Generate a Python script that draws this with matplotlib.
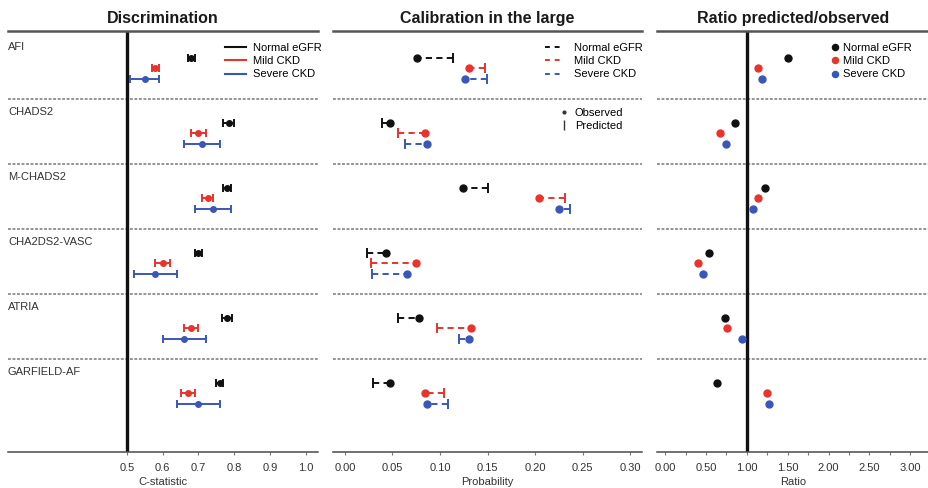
import matplotlib
matplotlib.use("Agg")
import matplotlib.pyplot as plt
from matplotlib.lines import Line2D
from matplotlib.ticker import FixedLocator, MultipleLocator, FormatStrFormatter
import matplotlib.transforms as mtransforms

plt.rcParams['font.family'] = ['Liberation Sans', 'DejaVu Sans']

# ---- data ----
scores = ["AFI", "CHADS2", "M-CHADS2", "CHA2DS2-VASC", "ATRIA", "GARFIELD-AF"]
groups = ["Normal eGFR", "Mild CKD", "Severe CKD"]
colors = ["#111111", "#e8342c", "#3a57b8"]

# C-statistic point estimates and 95% CI, per group (rows follow `scores`)
cstat_normal = [0.68, 0.785, 0.78, 0.70, 0.78, 0.76]
cstat_normal_lo = [0.67, 0.77, 0.77, 0.69, 0.765, 0.75]
cstat_normal_hi = [0.69, 0.80, 0.79, 0.71, 0.795, 0.77]
cstat_mild = [0.58, 0.70, 0.727, 0.60, 0.68, 0.67]
cstat_mild_lo = [0.57, 0.68, 0.71, 0.58, 0.66, 0.65]
cstat_mild_hi = [0.59, 0.72, 0.74, 0.62, 0.70, 0.69]
cstat_severe = [0.55, 0.71, 0.74, 0.58, 0.66, 0.70]
cstat_severe_lo = [0.51, 0.66, 0.69, 0.52, 0.60, 0.64]
cstat_severe_hi = [0.59, 0.76, 0.79, 0.64, 0.72, 0.76]

# Observed and predicted probabilities
obs_normal = [0.076, 0.047, 0.124, 0.043, 0.078, 0.047]
pred_normal = [0.114, 0.039, 0.150, 0.023, 0.0555, 0.029]
obs_mild = [0.1305, 0.0845, 0.204, 0.0744, 0.133, 0.084]
pred_mild = [0.147, 0.0555, 0.232, 0.0274, 0.0972, 0.104]
obs_severe = [0.126, 0.0867, 0.225, 0.0656, 0.131, 0.086]
pred_severe = [0.149, 0.063, 0.237, 0.028, 0.120, 0.108]

# Ratio predicted / observed
ratio_normal = [1.50, 0.85, 1.22, 0.54, 0.73, 0.64]
ratio_mild = [1.135, 0.67, 1.14, 0.40, 0.755, 1.245]
ratio_severe = [1.19, 0.75, 1.07, 0.46, 0.94, 1.27]

cstat = [(cstat_normal, cstat_normal_lo, cstat_normal_hi),
         (cstat_mild, cstat_mild_lo, cstat_mild_hi),
         (cstat_severe, cstat_severe_lo, cstat_severe_hi)]
calib = [(obs_normal, pred_normal), (obs_mild, pred_mild), (obs_severe, pred_severe)]
ratios = [ratio_normal, ratio_mild, ratio_severe]

# ---- layout ----
W, H = 929, 488
fig = plt.figure(figsize=(W / 100, H / 100), dpi=100)
fig.patch.set_facecolor("white")


def px_axes(x0, x1, y0, y1):
    ax = fig.add_axes([x0 / W, 1 - y1 / H, (x1 - x0) / W, (y1 - y0) / H])
    ax.patch.set_alpha(0)
    return ax


ax1 = px_axes(8, 318, 31, 452)
ax2 = px_axes(333, 642, 31, 452)
ax3 = px_axes(657, 929, 31, 452)

n = len(scores)
y_top, y_bot = -0.046, 6.43
offsets = [0.37, 0.525, 0.69]
label_off = 0.2
axis_grey = "#4a4a4a"
txt = 8


def style_axes(ax, title, xlabel):
    ax.set_ylim(y_bot, y_top)
    ax.set_yticks([])
    for s in ("left", "right"):
        ax.spines[s].set_visible(False)
    ax.spines["top"].set_color("#555555")
    ax.spines["top"].set_linewidth(1.8)
    ax.spines["bottom"].set_color(axis_grey)
    ax.spines["bottom"].set_linewidth(1.1)
    ax.tick_params(axis="x", which="both", direction="out", length=2.5, width=0.8,
                   color="#777777", labelsize=txt, labelcolor="#333333", pad=5.5)
    ax.set_title(title, fontsize=11.5, fontweight="bold", color="#1a1a1a", pad=6)
    ax.set_xlabel(xlabel, fontsize=txt, color="#333333", labelpad=2.5)
    for i in range(1, n):
        ax.axhline(i, color="#8c8c8c", lw=1.3, ls=(0, (1.6, 0.9)), zorder=1)


def legend_at(ax, handles, labels, x, y, hl, pad):
    return ax.legend(handles, labels, loc="upper left", bbox_to_anchor=(x, y),
                     frameon=False, fontsize=txt, handlelength=hl,
                     handletextpad=pad, labelspacing=0.28, borderaxespad=0,
                     borderpad=0)


# Discrimination panel
style_axes(ax1, "Discrimination", "C-statistic")
ax1.set_xlim(0.168, 1.034)
ax1.xaxis.set_major_locator(FixedLocator([0.5, 0.6, 0.7, 0.8, 0.9, 1.0]))
ax1.xaxis.set_major_formatter(FormatStrFormatter("%.1f"))
ax1.axvline(0.5, color="#111111", lw=2.4, zorder=2)
for g, (est, lo, hi) in enumerate(cstat):
    ys = [i + offsets[g] for i in range(n)]
    xerr = [[e - l for e, l in zip(est, lo)], [h - e for e, h in zip(est, hi)]]
    ax1.errorbar(est, ys, xerr=xerr, fmt="o", color=colors[g], ms=4,
                 elinewidth=1.4, capsize=3, capthick=1.4, zorder=3)
trans = mtransforms.blended_transform_factory(ax1.transAxes, ax1.transData)
for i, name in enumerate(scores):
    ax1.text(0.0, i + label_off, name, transform=trans, fontsize=txt,
             color="#333333", va="center", ha="left")
h1 = [Line2D([], [], color=c, lw=1.5) for c in colors]
legend_at(ax1, h1, groups, 0.70, 0.971, 1.9, 0.6)

# Calibration panel
style_axes(ax2, "Calibration in the large", "Probability")
ax2.set_xlim(-0.0126, 0.3126)
ax2.xaxis.set_major_locator(MultipleLocator(0.05))
ax2.xaxis.set_major_formatter(FormatStrFormatter("%.2f"))
for g, (obs, pred) in enumerate(calib):
    for i in range(n):
        y = i + offsets[g]
        ax2.plot([pred[i], obs[i]], [y, y], color=colors[g], lw=1.4,
                 ls=(0, (3.2, 2.2)), zorder=2)
    ys = [i + offsets[g] for i in range(n)]
    ax2.plot(pred, ys, ls="none", marker="|", ms=7, mew=1.4, color=colors[g], zorder=3)
    ax2.plot(obs, ys, ls="none", marker="o", ms=5, color=colors[g], zorder=4)
h2 = [Line2D([], [], color=c, lw=1.4, ls=(0, (2.5, 2.5))) for c in colors]
leg2 = legend_at(ax2, h2, groups, 0.686, 0.971, 1.35, 1.3)
ax2.add_artist(leg2)
h2b = [Line2D([], [], ls="none", marker="o", ms=2, color="#333333"),
       Line2D([], [], ls="none", marker="|", ms=7, mew=1.0, color="#333333")]
legend_at(ax2, h2b, ["Observed", "Predicted"], 0.731, 0.818, 0.9, 0.55)

# Ratio panel
style_axes(ax3, "Ratio predicted/observed", "Ratio")
ax3.set_xlim(-0.1, 3.23)
ax3.xaxis.set_major_locator(MultipleLocator(0.5))
ax3.xaxis.set_minor_locator(MultipleLocator(0.25))
ax3.xaxis.set_major_formatter(FormatStrFormatter("%.2f"))
ax3.axvline(1.0, color="#111111", lw=2.4, zorder=2)
for g, vals in enumerate(ratios):
    ys = [i + offsets[g] for i in range(n)]
    ax3.plot(vals, ys, ls="none", marker="o", ms=5, color=colors[g], zorder=3)
h3 = [Line2D([], [], ls="none", marker="o", ms=4.4, color=c) for c in colors]
legend_at(ax3, h3, groups, 0.636, 0.971, 0.9, 0.3)

fig.savefig("out.png", dpi=100, facecolor="white")
